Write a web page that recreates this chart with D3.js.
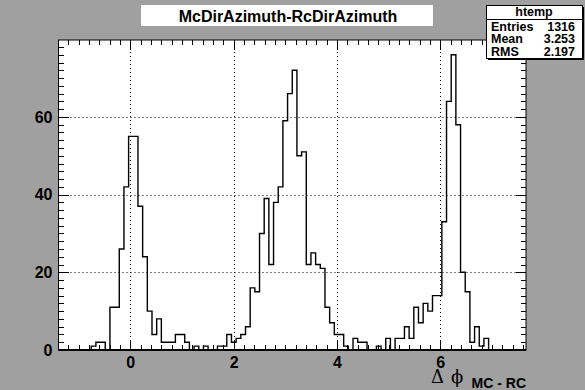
<!DOCTYPE html>
<html>
<head>
<meta charset="utf-8">
<script src="https://cdn.jsdelivr.net/npm/d3@7"></script>
<style>
  html, body { margin: 0; padding: 0; background: #a0a0a0; }
  svg { display: block; font-family: "Liberation Sans", Arial, sans-serif; }
</style>
</head>
<body>
<div id="chart"></div>
<script>
// histogram: 100 bins between xMin and xMax
var xMin = -1.39, xMax = 7.66, nBins = 100;
var counts = [
  0, 0, 0, 0, 0, 0, 0, 1, 2, 2,
  0, 11, 11, 26, 42, 55, 55, 37, 24, 10,
  4, 8, 2, 2, 2, 4, 4, 2, 0, 1,
  0, 1, 0, 0, 1, 1, 4, 2, 3, 4,
  6, 16, 15, 30, 39, 22, 38, 42, 59, 66,
  72, 50, 51, 22, 25, 22, 21, 11, 7, 4,
  4, 1, 0, 3, 2, 2, 0, 0, 1, 0,
  3, 0, 3, 3, 6, 3, 11, 7, 12, 10,
  14, 14, 33, 64, 76, 58, 20, 15, 2, 6,
  1, 3, 0, 0, 0, 0, 0, 0, 0, 0
];
var xTicks = [0, 2, 4, 6];
var yTicks = [0, 20, 40, 60];
var title = "McDirAzimuth-RcDirAzimuth";
var statsName = "htemp";
var statsLabels = ["Entries", "Mean", "RMS"];
var statsValues = ["1316", "3.253", "2.197"];

var W = 585, H = 390;
var yMax = d3.max(counts) * 1.05;

var svg = d3.select("#chart").append("svg")
    .attr("width", W)
    .attr("height", H);

svg.append("rect").attr("width", W).attr("height", H).attr("fill", "#a0a0a0");

var x = d3.scaleLinear().domain([xMin, xMax]).range([58.5, 526]);
var y = d3.scaleLinear().domain([0, yMax]).range([350, 40]);

// frame
svg.append("rect")
    .attr("x", x(xMin)).attr("y", y(yMax))
    .attr("width", x(xMax) - x(xMin)).attr("height", y(0) - y(yMax))
    .attr("fill", "#fff");

// dotted grid
var grid = svg.append("g").attr("stroke", "#000").attr("stroke-width", 1)
    .attr("stroke-dasharray", "1,3");
grid.selectAll(".gx").data(xTicks).enter().append("line")
    .attr("x1", function (d) { return Math.round(x(d)) + 0.5; })
    .attr("x2", function (d) { return Math.round(x(d)) + 0.5; })
    .attr("y1", y(yMax)).attr("y2", y(0));
grid.selectAll(".gy").data(yTicks.filter(function (d) { return d > 0; })).enter().append("line")
    .attr("y1", function (d) { return Math.round(y(d)) + 0.5; })
    .attr("y2", function (d) { return Math.round(y(d)) + 0.5; })
    .attr("x1", x(xMin)).attr("x2", x(xMax));

// histogram outline
var edges = d3.range(nBins + 1).map(function (i) { return xMin + (xMax - xMin) * i / nBins; });
var pts = [[edges[0], 0]];
counts.forEach(function (c, i) { pts.push([edges[i], c]); });
pts.push([edges[nBins], counts[nBins - 1]]);
pts.push([edges[nBins], 0]);

svg.append("path")
    .datum(pts)
    .attr("fill", "none")
    .attr("stroke", "#000")
    .attr("stroke-width", 1.4)
    .attr("stroke-linejoin", "miter")
    .attr("d", d3.line()
        .x(function (d) { return x(d[0]); })
        .y(function (d) { return y(d[1]); })
        .curve(d3.curveStepAfter));

// axes (ticks pointing inward)
var minorX = d3.range(-6, 39).map(function (i) { return i * 0.2; })
    .filter(function (v) { return v > xMin && v < xMax; });
var minorY = d3.range(0, 40).map(function (i) { return i * 2; });

function styleAxis(g) {
    g.select(".domain").remove();
    g.selectAll("line").attr("stroke", "#000").attr("shape-rendering", "crispEdges");
    g.selectAll("text").attr("fill", "#000").attr("font-weight", "bold").attr("font-size", 16)
        .attr("font-family", "'Liberation Sans', Arial, sans-serif");
}

svg.append("g").attr("transform", "translate(0," + y(0) + ")")
    .call(d3.axisBottom(x).tickValues(minorX).tickSize(-5).tickFormat(""))
    .call(styleAxis);
svg.append("g").attr("transform", "translate(0," + y(0) + ")")
    .call(d3.axisBottom(x).tickValues(xTicks).tickSize(-10).tickPadding(7).tickFormat(d3.format("d")))
    .call(styleAxis);
svg.append("g").attr("transform", "translate(0," + y(yMax) + ")")
    .call(d3.axisTop(x).tickValues(minorX).tickSize(-5).tickFormat(""))
    .call(styleAxis);
svg.append("g").attr("transform", "translate(0," + y(yMax) + ")")
    .call(d3.axisTop(x).tickValues(xTicks).tickSize(-10).tickFormat(""))
    .call(styleAxis);

svg.append("g").attr("transform", "translate(" + x(xMin) + ",0)")
    .call(d3.axisLeft(y).tickValues(minorY).tickSize(-5).tickFormat(""))
    .call(styleAxis);
svg.append("g").attr("transform", "translate(" + x(xMin) + ",0)")
    .call(d3.axisLeft(y).tickValues(yTicks).tickSize(-10).tickPadding(6).tickFormat(d3.format("d")))
    .call(styleAxis);
svg.append("g").attr("transform", "translate(" + x(xMax) + ",0)")
    .call(d3.axisRight(y).tickValues(minorY).tickSize(-5).tickFormat(""))
    .call(styleAxis);
svg.append("g").attr("transform", "translate(" + x(xMax) + ",0)")
    .call(d3.axisRight(y).tickValues(yTicks).tickSize(-10).tickFormat(""))
    .call(styleAxis);

// frame border, thicker bottom axis line
svg.append("rect")
    .attr("x", x(xMin)).attr("y", y(yMax))
    .attr("width", x(xMax) - x(xMin)).attr("height", y(0) - y(yMax))
    .attr("fill", "none").attr("stroke", "#000").attr("stroke-width", 1);
svg.append("line")
    .attr("x1", x(xMin)).attr("x2", x(xMax))
    .attr("y1", y(0)).attr("y2", y(0))
    .attr("stroke", "#000").attr("stroke-width", 2);

// axis title
var xt = svg.append("text").attr("y", 383).attr("fill", "#000")
    .attr("font-family", "'DejaVu Serif', 'Liberation Serif', serif").attr("font-size", 18);
xt.append("tspan").attr("x", 431).text("\u0394");
xt.append("tspan").attr("x", 451).text("\u03d5");
svg.append("text").attr("x", 526).attr("y", 388).attr("text-anchor", "end")
    .attr("font-weight", "bold").attr("font-size", 14).text("MC - RC");

// title box
svg.append("rect").attr("x", 141).attr("y", 5).attr("width", 292).attr("height", 21).attr("fill", "#fff");
svg.append("text").attr("x", 288).attr("y", 21.5).attr("text-anchor", "middle")
    .attr("font-weight", "bold").attr("font-size", 16).text(title);

// stats box
var sx = 486, sy = 5, sw = 96, sh = 53;
svg.append("rect").attr("x", sx + 2).attr("y", sy + 2).attr("width", sw).attr("height", sh).attr("fill", "#000");
svg.append("rect").attr("x", sx + 0.5).attr("y", sy + 0.5).attr("width", sw).attr("height", sh)
    .attr("fill", "#fff").attr("stroke", "#000").attr("stroke-width", 1);
svg.append("line").attr("x1", sx).attr("x2", sx + sw).attr("y1", 19.5).attr("y2", 19.5)
    .attr("stroke", "#000");
svg.append("text").attr("x", sx + sw / 2).attr("y", 15.5).attr("text-anchor", "middle")
    .attr("font-weight", "bold").attr("font-size", 12.5).text(statsName);
statsLabels.forEach(function (lab, i) {
    var by = 30.5 + i * 12.5;
    svg.append("text").attr("x", 491).attr("y", by)
        .attr("font-weight", "bold").attr("font-size", 12.5).text(lab);
    svg.append("text").attr("x", 575).attr("y", by).attr("text-anchor", "end")
        .attr("font-weight", "bold").attr("font-size", 12.5).text(statsValues[i]);
});
</script>
</body>
</html>
